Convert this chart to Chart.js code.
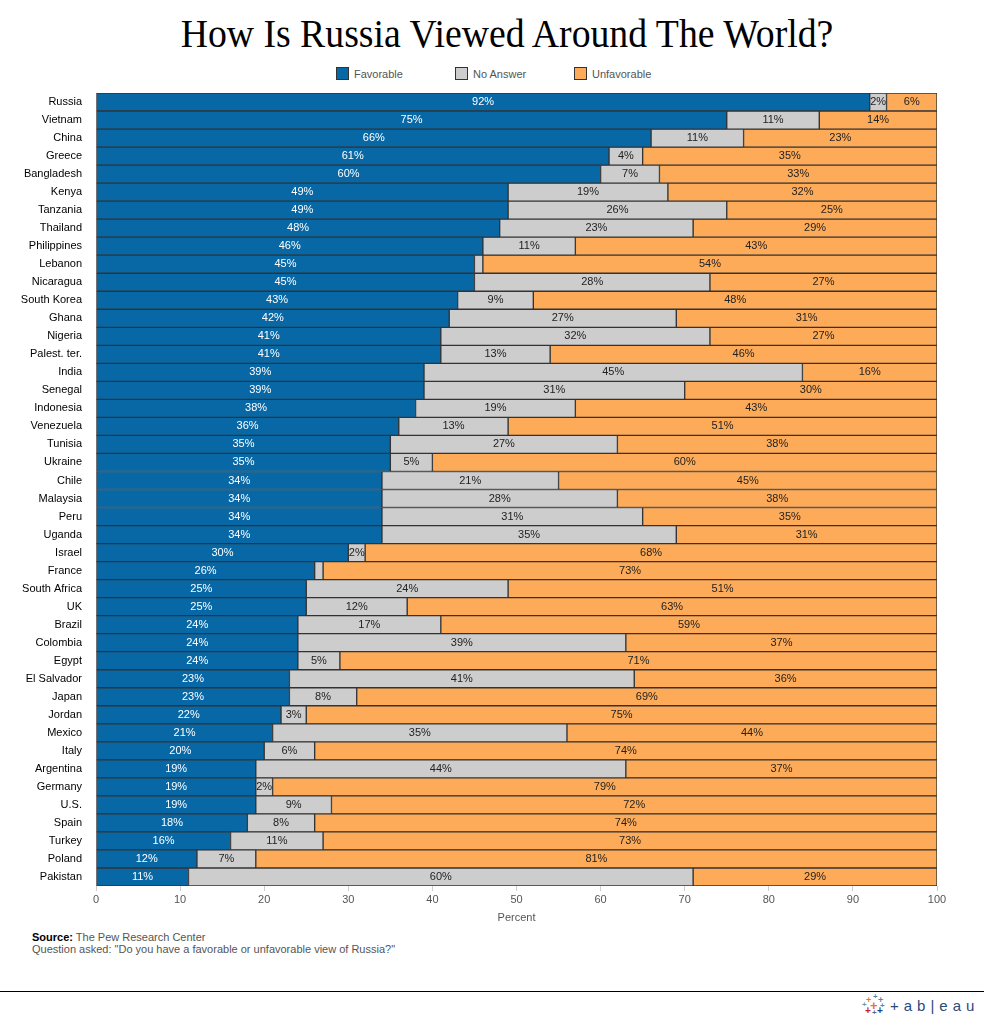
<!DOCTYPE html>
<html>
<head>
<meta charset="utf-8">
<script src="https://cdn.jsdelivr.net/npm/chart.js"></script>
<style>
  body { margin: 0; background: #fff; width: 984px; height: 1020px; position: relative; overflow: hidden; font-family: Arial, "Liberation Sans", sans-serif; }
  #title { position: absolute; top: 9px; left: 0; width: 1014px; text-align: center; font-family: "Liberation Serif", "Times New Roman", serif; font-size: 41px; color: #000; transform: scaleX(0.92); transform-origin: 507px 0; }
  #legend { position: absolute; top: 67px; left: 0; width: 984px; height: 16px; }
  .leg { position: absolute; font-size: 11px; color: #555; line-height: 13px; }
  .leg span { display: inline-block; width: 11px; height: 11px; border: 1px solid #333; vertical-align: -2px; margin-right: 5px; }
  #wrap { position: absolute; top: 90px; left: 0; width: 984px; height: 835px; }
  #note { position: absolute; top: 931px; left: 32px; font-size: 11px; color: #555; line-height: 12px; }
  #note b { color: #000; }
  #rule { position: absolute; top: 991px; left: 0; width: 984px; height: 1px; background: #000; }
  #logo { position: absolute; top: 994px; left: 862px; width: 122px; height: 24px; }
  #logo i { position: absolute; font-style: normal; font-weight: bold; font-family: Arial, sans-serif; line-height: 1; }
  #logo b { position: absolute; left: 28px; top: 3px; font-weight: normal; font-size: 15px; color: #2c4a7a; letter-spacing: 5px; white-space: nowrap; }
</style>
</head>
<body>
<div id="title">How Is Russia Viewed Around The World?</div>
<div id="legend"></div>
<div id="wrap"><canvas id="chart"></canvas></div>
<div id="note"><b>Source:</b> The Pew Research Center<br>Question asked: "Do you have a favorable or unfavorable view of Russia?"</div>
<div id="rule"></div>
<div id="logo">
  <i style="left:4px;top:2px;font-size:9px;color:#e8762b">+</i>
  <i style="left:11px;top:-1px;font-size:8px;color:#5b879b">+</i>
  <i style="left:16px;top:2px;font-size:9px;color:#5b879b">+</i>
  <i style="left:0px;top:7px;font-size:8px;color:#7099a6">+</i>
  <i style="left:8px;top:5px;font-size:13px;color:#e8762b">+</i>
  <i style="left:18px;top:8px;font-size:8px;color:#5b879b">+</i>
  <i style="left:3px;top:12px;font-size:10px;color:#c72035">+</i>
  <i style="left:10px;top:15px;font-size:8px;color:#5b6591">+</i>
  <i style="left:15px;top:12px;font-size:10px;color:#1f457e">+</i>
  <b>+ab|eau</b>
</div>
<script>
const countries = ['Russia', 'Vietnam', 'China', 'Greece', 'Bangladesh', 'Kenya', 'Tanzania', 'Thailand', 'Philippines', 'Lebanon', 'Nicaragua', 'South Korea', 'Ghana', 'Nigeria', 'Palest. ter.', 'India', 'Senegal', 'Indonesia', 'Venezuela', 'Tunisia', 'Ukraine', 'Chile', 'Malaysia', 'Peru', 'Uganda', 'Israel', 'France', 'South Africa', 'UK', 'Brazil', 'Colombia', 'Egypt', 'El Salvador', 'Japan', 'Jordan', 'Mexico', 'Italy', 'Argentina', 'Germany', 'U.S.', 'Spain', 'Turkey', 'Poland', 'Pakistan'];

const favorable = [92, 75, 66, 61, 60, 49, 49, 48, 46, 45, 45, 43, 42, 41, 41, 39, 39, 38, 36, 35, 35, 34, 34, 34, 34, 30, 26, 25, 25, 24, 24, 24, 23, 23, 22, 21, 20, 19, 19, 19, 18, 16, 12, 11];
const noAnswer = [2, 11, 11, 4, 7, 19, 26, 23, 11, 1, 28, 9, 27, 32, 13, 45, 31, 19, 13, 27, 5, 21, 28, 31, 35, 2, 1, 24, 12, 17, 39, 5, 41, 8, 3, 35, 6, 44, 2, 9, 8, 11, 7, 60];
const unfavorable = [6, 14, 23, 35, 33, 32, 25, 29, 43, 54, 27, 48, 31, 27, 46, 16, 30, 43, 51, 38, 60, 45, 38, 35, 31, 68, 73, 51, 63, 59, 37, 71, 36, 69, 75, 44, 74, 37, 79, 72, 74, 73, 81, 29];

const seriesNames = ['Favorable', 'No Answer', 'Unfavorable'];
const seriesColors = ['#0868a6', '#cdcdcd', '#fdab58'];
const labelColors = ['#ffffff', '#222222', '#222222'];
const xTicks = [0, 10, 20, 30, 40, 50, 60, 70, 80, 90, 100];

// legend in html, fixed spacing like the original
const legend = document.getElementById('legend');
seriesNames.forEach((name, i) => {
  const d = document.createElement('div');
  d.className = 'leg';
  d.style.left = (336 + i * 119) + 'px';
  d.innerHTML = '<span style="background:' + seriesColors[i] + '"></span>' + name;
  legend.appendChild(d);
});

// draws the percent labels in the middle of each segment
const barLabels = {
  id: 'barLabels',
  afterDatasetsDraw(chart) {
    const ctx = chart.ctx;
    ctx.save();
    ctx.font = '11px Arial, "Liberation Sans", sans-serif';
    ctx.textAlign = 'center';
    ctx.textBaseline = 'middle';
    chart.data.datasets.forEach((ds, i) => {
      chart.getDatasetMeta(i).data.forEach((bar, j) => {
        const v = ds.data[j];
        if (v < 2) return;
        ctx.fillStyle = labelColors[i];
        ctx.fillText(v + '%', (bar.x + bar.base) / 2, bar.y);
      });
    });
    ctx.restore();
  }
};

const ctx = document.getElementById('chart').getContext('2d');
new Chart(ctx, {
  type: 'bar',
  data: {
    labels: countries,
    datasets: [favorable, noAnswer, unfavorable].map((d, i) => ({
      label: seriesNames[i],
      data: d,
      backgroundColor: seriesColors[i],
      borderColor: '#333333',
      borderWidth: 1,
      borderSkipped: false,
      barPercentage: 1,
      categoryPercentage: 1
    }))
  },
  options: {
    indexAxis: 'y',
    responsive: true,
    maintainAspectRatio: false,
    animation: false,
    layout: { padding: { top: 3, right: 47, bottom: 0, left: 0 } },
    plugins: {
      legend: { display: false },
      tooltip: { enabled: false }
    },
    scales: {
      x: {
        stacked: true,
        min: 0,
        max: 100,
        afterBuildTicks: scale => { scale.ticks = xTicks.map(v => ({ value: v })); },
        afterFit: scale => { scale.height = 39; },
        grid: { drawOnChartArea: false, drawTicks: true, tickLength: 5, color: '#cccccc' },
        border: { display: false },
        ticks: { color: '#555', font: { size: 11, family: 'Arial' }, padding: 2 },
        title: { display: true, text: 'Percent', color: '#555', font: { size: 11, family: 'Arial' }, padding: { top: 2, bottom: 0 } }
      },
      y: {
        stacked: true,
        afterFit: scale => { scale.width = 96; scale.paddingTop = 0; scale.paddingBottom = 0; },
        grid: { display: false },
        border: { display: false },
        ticks: { color: '#000', font: { size: 11, family: 'Arial' }, padding: 6, autoSkip: false }
      }
    }
  },
  plugins: [barLabels]
});
</script>
</body>
</html>
